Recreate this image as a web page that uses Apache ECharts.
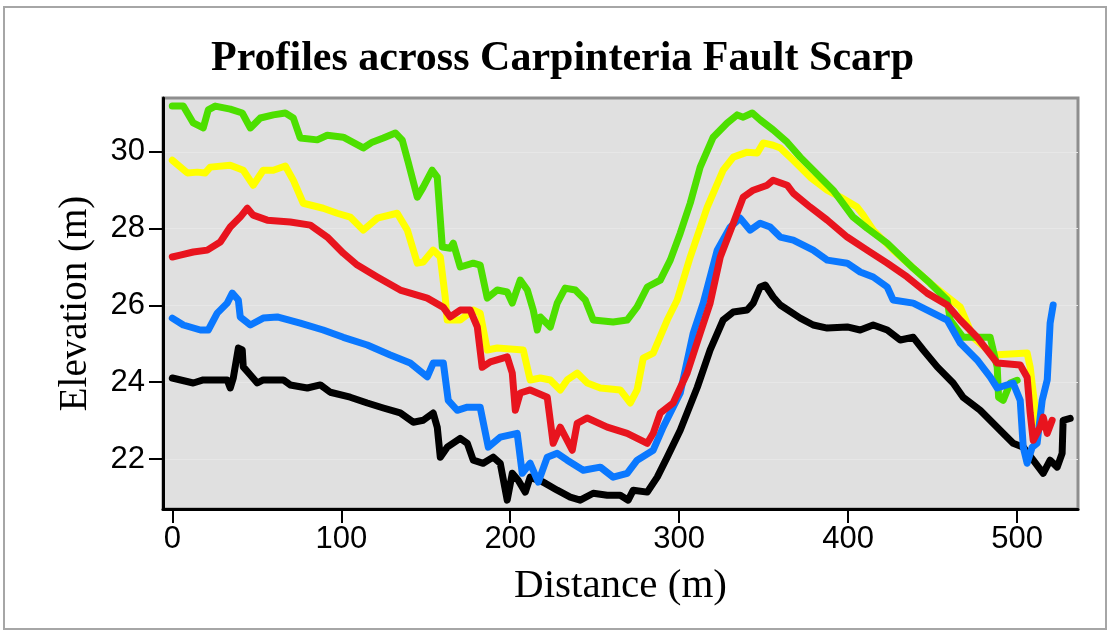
<!DOCTYPE html>
<html>
<head>
<meta charset="utf-8">
<title>Profiles across Carpinteria Fault Scarp</title>
<script src="https://cdn.jsdelivr.net/npm/echarts@6/dist/echarts.min.js"></script>
<style>
  html, body { margin: 0; padding: 0; background: #ffffff; }
  #chart { width: 1109px; height: 631px; }
</style>
</head>
<body>
<div id="chart"></div>
<script>
// Tick positions on both axes
const distanceTicks = [0, 100, 200, 300, 400, 500];
const elevationTicks = [22, 24, 26, 28, 30];

// Profile 1 (black)
const blackDist = [0, 12.4, 18.3, 32.5, 34.3, 36.1, 39.1, 41.4, 42.0, 46.2, 50.3, 53.8, 65.7, 69.8, 79.9, 87.6, 93.5, 105.3, 115.4, 124.9, 134.9, 142.6, 148.5, 154.4, 156.8, 158.6, 162.7, 170.4, 174.6, 178.1, 184.0, 189.9, 194.1, 198.2, 201.2, 204.7, 208.9, 211.8, 219.5, 227.8, 235.5, 241.4, 249.1, 257.4, 265.1, 269.8, 272.8, 281.1, 287.0, 292.9, 300.6, 310.7, 318.3, 326.0, 332.0, 340.2, 343.8, 347.9, 350.9, 355.6, 359.8, 371.6, 379.3, 387.6, 399.4, 407.1, 414.8, 423.1, 430.8, 438.5, 444.4, 452.7, 462.1, 468.0, 478.1, 489.9, 497.6, 503.6, 509.5, 515.4, 519.5, 523.7, 526.6, 527.2, 531.4];
const blackElev = [24.11, 23.98, 24.06, 24.06, 23.85, 24.11, 24.89, 24.84, 24.40, 24.19, 23.98, 24.06, 24.06, 23.93, 23.85, 23.93, 23.74, 23.61, 23.46, 23.33, 23.20, 22.96, 23.01, 23.20, 22.83, 22.05, 22.31, 22.54, 22.41, 21.97, 21.89, 22.05, 21.89, 20.93, 21.63, 21.45, 21.14, 21.53, 21.40, 21.19, 21.01, 20.93, 21.11, 21.06, 21.06, 20.93, 21.19, 21.14, 21.53, 22.05, 22.75, 23.87, 24.84, 25.62, 25.83, 25.88, 26.06, 26.48, 26.53, 26.22, 26.01, 25.67, 25.49, 25.41, 25.44, 25.36, 25.49, 25.36, 25.10, 25.17, 24.84, 24.40, 23.98, 23.61, 23.27, 22.75, 22.41, 22.31, 21.97, 21.63, 21.97, 21.79, 22.15, 23.01, 23.06];

// Profile 2 (yellow)
const yellowDist = [0, 8.9, 14.8, 19.5, 22.5, 34.3, 42.0, 47.9, 53.8, 59.8, 66.9, 71.6, 77.5, 89.3, 97.6, 105.3, 113.0, 121.3, 133.1, 139.1, 145.0, 148.5, 154.4, 158.6, 161.5, 162.7, 170.4, 178.1, 182.2, 186.4, 192.3, 207.7, 211.8, 217.8, 223.7, 229.6, 233.7, 239.6, 245.6, 253.3, 265.1, 271.0, 275.1, 278.7, 284.6, 292.9, 298.8, 306.5, 316.6, 326.0, 332.0, 340.2, 346.2, 349.7, 355.6, 359.8, 367.5, 377.5, 387.6, 395.3, 405.3, 408.9, 414.8, 426.6, 438.5, 448.5, 466.3, 474.0, 485.8, 505.9, 507.7, 509.5, 511.8];
const yellowElev = [29.78, 29.45, 29.47, 29.45, 29.60, 29.65, 29.52, 29.13, 29.52, 29.52, 29.63, 29.26, 28.66, 28.53, 28.40, 28.30, 27.96, 28.27, 28.40, 27.96, 27.10, 27.13, 27.44, 27.26, 26.22, 25.62, 25.62, 25.88, 25.80, 24.84, 24.89, 24.84, 24.06, 24.11, 24.06, 23.80, 24.06, 24.24, 23.98, 23.85, 23.80, 23.46, 23.80, 24.63, 24.76, 25.62, 26.14, 27.26, 28.56, 29.52, 29.86, 29.99, 29.97, 30.23, 30.17, 30.10, 29.78, 29.34, 29.00, 28.82, 28.56, 28.35, 27.96, 27.44, 26.97, 26.58, 25.96, 25.17, 24.71, 24.76, 24.39, 23.72, 22.94];

// Profile 3 (green)
const greenDist = [0, 6.5, 12.4, 18.3, 21.3, 25.4, 34.3, 41.4, 46.2, 52.1, 59.8, 66.9, 71.6, 75.7, 85.8, 91.7, 101.2, 113.0, 118.3, 124.9, 132.0, 136.1, 139.6, 145.0, 148.5, 153.8, 156.8, 159.8, 164.5, 166.3, 170.4, 178.1, 182.2, 186.4, 192.3, 198.2, 201.2, 205.9, 210.1, 213.6, 216.0, 217.8, 223.7, 227.8, 232.5, 238.5, 244.4, 249.1, 260.9, 269.2, 275.1, 281.1, 288.8, 294.7, 300.6, 306.5, 312.4, 320.1, 328.4, 334.3, 337.9, 343.2, 347.9, 355.6, 363.9, 371.6, 385.2, 391.1, 402.9, 411.2, 423.1, 438.5, 448.5, 458.6, 460.4, 468.0, 484.0, 488.2, 489.0, 491.7, 495.9, 500.0];
const greenElev = [31.19, 31.19, 30.75, 30.62, 31.09, 31.19, 31.11, 31.01, 30.62, 30.88, 30.96, 31.01, 30.88, 30.36, 30.31, 30.43, 30.38, 30.10, 30.25, 30.36, 30.49, 30.30, 29.73, 28.82, 29.08, 29.52, 29.34, 27.52, 27.49, 27.62, 27.00, 27.10, 27.05, 26.19, 26.40, 26.35, 26.06, 26.66, 26.40, 25.88, 25.36, 25.70, 25.44, 26.06, 26.45, 26.40, 26.14, 25.62, 25.57, 25.62, 25.96, 26.48, 26.66, 27.18, 27.88, 28.66, 29.60, 30.38, 30.75, 30.96, 30.90, 31.01, 30.83, 30.57, 30.25, 29.86, 29.26, 29.00, 28.30, 28.01, 27.62, 26.97, 26.58, 26.14, 25.62, 25.17, 25.17, 24.39, 23.61, 23.53, 23.98, 24.05];

// Profile 4 (blue)
const blueDist = [0, 6.5, 16.6, 21.3, 26.6, 32.5, 35.5, 39.1, 40.2, 46.2, 53.8, 62.1, 75.7, 89.3, 101.2, 115.4, 129.0, 140.8, 150.9, 154.4, 160.4, 163.3, 168.6, 174.6, 182.2, 187.0, 194.1, 204.1, 207.1, 211.8, 216.6, 221.9, 227.8, 233.7, 243.2, 253.3, 260.9, 269.2, 275.1, 284.6, 290.5, 300.6, 308.3, 314.2, 322.5, 330.2, 336.1, 342.0, 347.9, 353.8, 359.8, 367.5, 379.3, 387.6, 399.4, 407.1, 414.8, 423.1, 426.6, 438.5, 450.3, 458.6, 466.3, 476.3, 484.0, 488.2, 497.6, 501.8, 503.6, 505.9, 508.9, 511.8, 514.8, 517.8, 519.5, 521.3];
const blueElev = [25.67, 25.49, 25.36, 25.36, 25.80, 26.06, 26.32, 26.14, 25.70, 25.49, 25.67, 25.70, 25.54, 25.36, 25.17, 24.97, 24.71, 24.50, 24.14, 24.50, 24.50, 23.53, 23.27, 23.35, 23.35, 22.31, 22.57, 22.67, 21.63, 21.89, 21.40, 22.05, 22.15, 21.97, 21.71, 21.79, 21.53, 21.63, 21.97, 22.23, 22.83, 23.72, 25.28, 26.06, 27.44, 28.04, 28.27, 27.96, 28.14, 28.04, 27.78, 27.70, 27.44, 27.18, 27.10, 26.87, 26.74, 26.48, 26.14, 26.06, 25.80, 25.62, 25.02, 24.58, 24.14, 23.85, 23.98, 23.53, 22.31, 21.89, 22.31, 22.41, 23.53, 24.06, 25.54, 26.01];

// Profile 5 (red)
const redDist = [0, 4.7, 12.4, 20.7, 28.4, 34.3, 40.2, 44.4, 47.9, 56.2, 69.8, 81.7, 91.7, 101.2, 109.5, 121.3, 134.9, 150.9, 160.4, 164.5, 170.4, 176.3, 180.5, 183.4, 188.2, 198.2, 201.2, 203.0, 205.9, 211.8, 221.9, 225.4, 229.6, 236.7, 239.6, 245.6, 257.4, 269.2, 281.1, 284.6, 288.8, 296.4, 304.7, 312.4, 318.3, 324.3, 332.0, 337.9, 343.8, 352.1, 355.6, 363.9, 367.5, 377.5, 387.6, 399.4, 411.2, 423.1, 434.9, 446.7, 458.6, 466.3, 476.3, 488.2, 501.8, 505.9, 507.7, 509.5, 513.6, 515.4, 517.8, 520.7];
const redElev = [27.26, 27.31, 27.39, 27.44, 27.65, 28.04, 28.30, 28.53, 28.35, 28.22, 28.17, 28.09, 27.78, 27.36, 27.05, 26.74, 26.40, 26.19, 25.95, 25.70, 25.88, 25.88, 25.44, 24.39, 24.53, 24.66, 24.24, 23.27, 23.72, 23.80, 23.61, 22.41, 22.83, 22.23, 22.93, 23.07, 22.83, 22.67, 22.41, 22.67, 23.20, 23.46, 24.24, 25.28, 26.06, 27.26, 28.14, 28.82, 29.00, 29.13, 29.26, 29.13, 28.92, 28.56, 28.22, 27.78, 27.44, 27.10, 26.74, 26.32, 26.01, 25.62, 25.17, 24.50, 24.45, 24.13, 23.20, 22.49, 22.83, 23.09, 22.67, 23.01];

function pairs(xs, ys) {
  return xs.map(function (x, i) { return [x, ys[i]]; });
}

function profile(name, xs, ys, color) {
  return {
    name: name,
    type: 'line',
    data: pairs(xs, ys),
    showSymbol: false,
    symbol: 'none',
    smooth: false,
    lineStyle: { color: color, width: 7, join: 'round', cap: 'round' },
    emphasis: { disabled: true },
    animation: false
  };
}

const chart = echarts.init(document.getElementById('chart'), null, { renderer: 'canvas' });

chart.setOption({
  backgroundColor: '#ffffff',
  animation: false,
  title: {
    text: 'Profiles across Carpinteria Fault Scarp',
    left: 206,
    top: 33,
    textStyle: {
      fontFamily: '"Liberation Serif", "DejaVu Serif", serif',
      fontWeight: 'bold',
      fontSize: 42,
      color: '#000000'
    }
  },
  graphic: [{
    type: 'rect',
    z: -10,
    silent: true,
    shape: { x: 4, y: 7, width: 1102, height: 622 },
    style: { fill: null, stroke: '#a6a6a6', lineWidth: 2 }
  }],
  grid: {
    left: 163,
    right: 31,
    top: 98,
    bottom: 122,
    show: true,
    backgroundColor: '#e0e0e0',
    borderColor: '#8e8e8e',
    borderWidth: 3
  },
  xAxis: {
    type: 'value',
    min: -5.5,
    max: 536,
    name: 'Distance (m)',
    nameLocation: 'middle',
    nameGap: 57,
    nameTextStyle: {
      fontFamily: '"Liberation Serif", "DejaVu Serif", serif',
      fontSize: 41,
      color: '#000000'
    },
    axisLine: { show: true, onZero: false, lineStyle: { color: '#000000', width: 3 } },
    axisTick: {
      show: true, inside: false, length: 14,
      customValues: distanceTicks,
      lineStyle: { color: '#000000', width: 2 }
    },
    axisLabel: {
      customValues: distanceTicks,
      margin: 15,
      fontFamily: '"Liberation Sans", Arial, sans-serif',
      fontSize: 31,
      color: '#000000'
    },
    splitLine: { show: false }
  },
  yAxis: {
    type: 'value',
    min: 20.7,
    max: 31.4,
    name: 'Elevation (m)',
    nameLocation: 'middle',
    nameGap: 68,
    nameRotate: 90,
    nameTextStyle: {
      fontFamily: '"Liberation Serif", "DejaVu Serif", serif',
      fontSize: 39,
      color: '#000000'
    },
    axisLine: { show: true, onZero: false, lineStyle: { color: '#000000', width: 3 } },
    axisTick: {
      show: true, inside: false, length: 14,
      customValues: elevationTicks,
      lineStyle: { color: '#000000', width: 2 }
    },
    axisLabel: {
      customValues: elevationTicks,
      margin: 18,
      fontFamily: '"Liberation Sans", Arial, sans-serif',
      fontSize: 31,
      color: '#000000'
    },
    splitLine: { show: true, lineStyle: { color: '#e7e7e7', width: 1 } }
  },
  series: [
    profile('Profile 1', blackDist, blackElev, '#000000'),
    profile('Profile 2', yellowDist, yellowElev, '#ffff00'),
    profile('Profile 3', greenDist, greenElev, '#4ddf00'),
    profile('Profile 4', blueDist, blueElev, '#0a78ff'),
    profile('Profile 5', redDist, redElev, '#e8141e')
  ]
});
</script>
</body>
</html>
